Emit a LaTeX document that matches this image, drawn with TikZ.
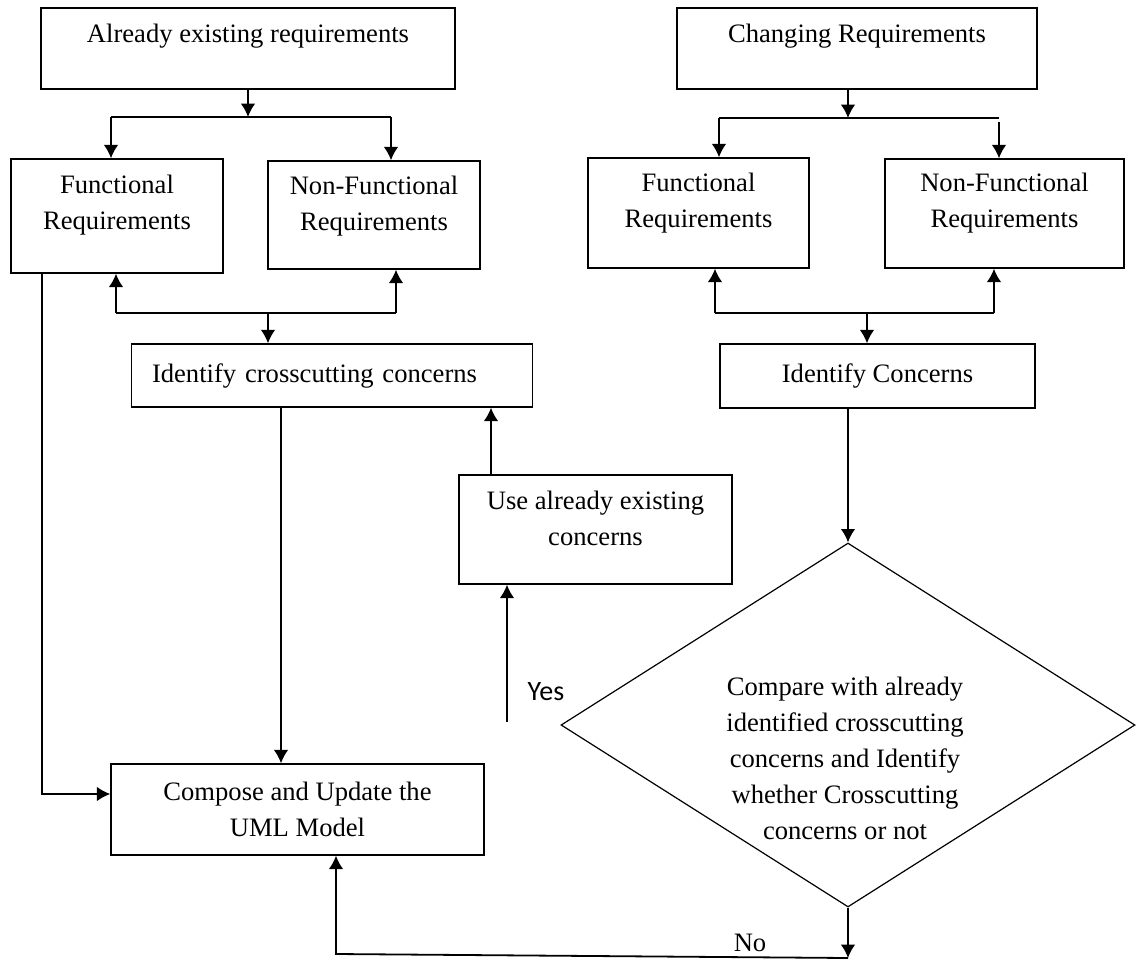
\documentclass[tikz,border=0pt]{standalone}
\usepackage{fontspec}
\setmainfont{Liberation Serif}
\newfontfamily\yesfont{Carlito}
\usetikzlibrary{arrows.meta,shapes.geometric}

\tikzset{
	box/.style={draw, line width=0.7pt, rectangle, align=center, inner sep=0pt},
	decision/.style={draw, line width=0.6pt, diamond, inner sep=0pt},
	arr/.style={line width=0.9pt, -{Latex[length=6.7pt,width=7.3pt]}},
	link/.style={line width=0.9pt},
}

\begin{document}
\begin{tikzpicture}[x=0.5pt, y=-0.5pt, font=\fontsize{13.3pt}{18pt}\selectfont]
	\useasboundingbox (0,0) rectangle (1137,960);

	% existing requirements side
	\node[box, minimum width=207pt, minimum height=40.5pt, text depth=14.8pt] (exist) at (248,48.5) {Already existing requirements};
	\node[box, minimum width=106pt, minimum height=57pt, text depth=14pt] (func1) at (117,216) {Functional\\Requirements};
	\node[box, minimum width=106pt, minimum height=54pt, text depth=11.3pt] (nonf1) at (374,215) {Non-Functional\\Requirements};
	\node[box, minimum width=200.5pt, minimum height=31.5pt, text width=180pt, align=left, inner xsep=10pt] (cross) at (332,375.5) {Identify crosscutting concerns};
	\node[box, minimum width=136.5pt, minimum height=54.5pt, text depth=10.8pt] (use) at (595.5,529.5) {Use already existing\\concerns};
	\node[box, minimum width=186.5pt, minimum height=45.5pt] (compose) at (297.5,809.5) {Compose and Update the\\UML Model};

	% changing requirements side
	\node[box, minimum width=180pt, minimum height=40.5pt, text depth=14.8pt] (change) at (857,48.5) {Changing Requirements};
	\node[box, minimum width=110.5pt, minimum height=55pt, text depth=12.3pt] (func2) at (698.5,213) {Functional\\Requirements};
	\node[box, minimum width=119.5pt, minimum height=54.5pt, text depth=12.8pt] (nonf2) at (1004.5,213.5) {Non-Functional\\Requirements};
	\node[box, minimum width=157.5pt, minimum height=32pt] (ident) at (877.5,376) {Identify Concerns};
	\node[decision, minimum width=287pt, minimum height=182pt] (dec) at (848,725) {};
	\node[align=center] (dectext) at (845,758) {Compare with already\\identified crosscutting\\concerns and Identify\\whether Crosscutting\\concerns or not};

	\node (yes) at (546,692) {\yesfont\fontsize{14pt}{16pt}\selectfont Yes};
	\node (no) at (750,943) {No};

	% junction points
	\coordinate (exsplit) at (248,117);
	\coordinate (exL) at (111,117);
	\coordinate (exR) at (391,117);
	\coordinate (exUpL) at (116,313);
	\coordinate (exUpR) at (396,313);
	\coordinate (exJoin) at (268,313);
	\coordinate (fdrop) at (42,794);
	\coordinate (crossdrop) at (281,764);
	\coordinate (usex) at (491,500);
	\coordinate (yesfoot) at (507,722);
	\coordinate (chsplit) at (848,118);
	\coordinate (chL) at (719,118);
	\coordinate (chR) at (999,118);
	\coordinate (chRtop) at (999,122);
	\coordinate (idUpL) at (715,313);
	\coordinate (idUpR) at (994,313);
	\coordinate (idJoin) at (867,313);
	\coordinate (noend) at (848,958);
	\coordinate (nocorner) at (336,954);

	% left connectors
	\draw[arr] (exist) -- (exsplit);
	\draw[link] (exL) -- (exR);
	\draw[arr] (exL) -- (exL |- func1.north);
	\draw[arr] (exR) -- (exR |- nonf1.north);
	\draw[link] (exUpL) -- (exUpR);
	\draw[arr] (exUpL) -- (exUpL |- func1.south);
	\draw[arr] (exUpR) -- (exUpR |- nonf1.south);
	\draw[arr] (exJoin) -- (exJoin |- cross.north);
	\draw[arr] (fdrop |- func1.south) -- (fdrop) -- (fdrop -| compose.west);
	\draw[arr] (crossdrop |- cross.south) -- (crossdrop |- compose.north);
	\draw[arr] (usex |- use.north) -- (usex |- cross.south);
	\draw[arr] (yesfoot) -- (yesfoot |- use.south);

	% right connectors
	\draw[arr] (change.south -| chsplit) -- (chsplit);
	\draw[link] (chL) -- (chR);
	\draw[arr] (chL) -- (chL |- func2.north);
	\draw[arr] (chRtop) -- (chRtop |- nonf2.north);
	\draw[link] (idUpL) -- (idUpR);
	\draw[arr] (idUpL) -- (idUpL |- func2.south);
	\draw[arr] (idUpR) -- (idUpR |- nonf2.south);
	\draw[arr] (idJoin) -- (idJoin |- ident.north);
	\draw[arr] (ident.south -| dec.north) -- (dec.north);
	\draw[arr] (dec.south) -- (noend);
	\draw[arr] (noend) -- (nocorner) -- (nocorner |- compose.south);
\end{tikzpicture}
\end{document}
